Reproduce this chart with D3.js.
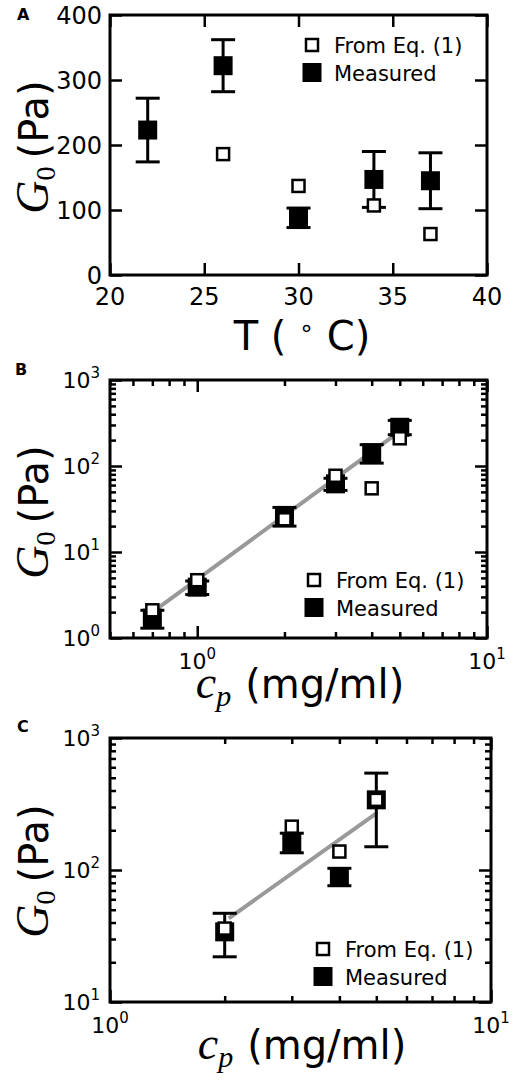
<!DOCTYPE html>
<html>
<head>
<meta charset="utf-8">
<title>G0 vs T and cp</title>
<style>
body{margin:0;background:#fff}
text{font-family:"DejaVu Sans",sans-serif;fill:#000}
</style>
</head>
<body>
<script src="https://d3js.org/d3.v7.min.js"></script>
<script>
var W = 528, H = 1084;

// panel A : G0 vs temperature
var tempA = [22, 26, 30, 34, 37];
var measA = [223, 322, 88, 147, 145];
var measAErr = [49, 40, 15, 43, 43];
var eqTempA = [26, 30, 34, 37];
var eqA = [186, 137, 107, 63];
var xTicksA = [20, 25, 30, 35, 40];
var yTicksA = [0, 100, 200, 300, 400];

// panel B : G0 vs polymer concentration
var concB = [0.7, 1, 2, 3, 4, 5];
var measB = [1.7, 3.9, 26, 62, 142, 282];
var measBLo = [1.3, 3.2, 20, 52, 108, 231];
var measBHi = [2.1, 4.6, 33, 72, 177, 339];
var eqB = [2.1, 4.7, 24, 77, 55, 210];
var fitBx = [0.7, 5];
var fitBy = [2.0, 252];

// panel C
var concC = [2, 3, 4, 5];
var measC = [34, 162, 89, 340];
var measCLo = [22, 135, 76, 150];
var measCHi = [47, 190, 103, 542];
var eqC = [36, 213, 138, 340];
var fitCx = [2.05, 5];
var fitCy = [43, 269];

var legendLabels = ["From Eq. (1)", "Measured"];

var svg = d3.select('body').append('svg')
  .attr('width', W)
  .attr('height', H)

function isPow10(v) {
  var l = Math.log10(v);
  return Math.abs(l - Math.round(l)) < 1e-9;
}

function drawPanel(p) {
  var g = svg.append('g');
  var x = p.x, y = p.y;
  var left = x.range()[0], right = x.range()[1];
  var bottom = y.range()[0], top = y.range()[1];

  function tickRow(axisFn, scale, vals, size, tx, ty) {
    g.append('g')
      .attr('transform', 'translate(' + tx + ',' + ty + ')')
      .call(axisFn(scale).tickValues(vals).tickSize(size).tickSizeOuter(0).tickFormat(''))
      .call(function(a) {
        a.select('.domain').remove();
        a.selectAll('line').attr('stroke', '#000').attr('stroke-width', 2.5);
      });
  }
  [[p.xMajor, -12], [p.xMinor, -6]].forEach(function(t) {
    if (!t[0].length) return;
    tickRow(d3.axisBottom, x, t[0], t[1], 0, bottom);
    tickRow(d3.axisTop, x, t[0], t[1], 0, top);
  });
  [[p.yMajor, -12], [p.yMinor, -6]].forEach(function(t) {
    if (!t[0].length) return;
    tickRow(d3.axisLeft, y, t[0], t[1], left, 0);
    tickRow(d3.axisRight, y, t[0], t[1], right, 0);
  });

  g.append('rect')
    .attr('x', left).attr('y', top)
    .attr('width', right - left).attr('height', bottom - top)
    .attr('fill', 'none').attr('stroke', '#000').attr('stroke-width', 3);

  // tick labels
  if (p.log) {
    p.xMajor.forEach(function(v) {
      var t = g.append('text').attr('x', x(v)).attr('y', bottom + 31)
        .attr('text-anchor', 'middle').style('font-size', '22px');
      t.append('tspan').text('10');
      t.append('tspan').attr('dy', -10).style('font-size', '15px').text(Math.round(Math.log10(v)));
    });
    p.yMajor.forEach(function(v) {
      var t = g.append('text').attr('x', left - 10).attr('y', y(v) + 8)
        .attr('text-anchor', 'end').style('font-size', '22px');
      t.append('tspan').text('10');
      t.append('tspan').attr('dy', -10).style('font-size', '15px').text(Math.round(Math.log10(v)));
    });
  } else {
    p.xMajor.forEach(function(v) {
      g.append('text').attr('x', x(v)).attr('y', bottom + 30)
        .attr('text-anchor', 'middle').style('font-size', '24px').text(v);
    });
    p.yMajor.forEach(function(v) {
      g.append('text').attr('x', left - 8).attr('y', y(v) + 9)
        .attr('text-anchor', 'end').style('font-size', '24px').text(v);
    });
  }

  // fit line
  if (p.fit) {
    g.append('path')
      .datum(d3.zip(p.fit[0], p.fit[1]))
      .attr('fill', 'none').attr('stroke', '#999').attr('stroke-width', 4)
      .attr('d', d3.line().x(function(d){ return x(d[0]) }).y(function(d){ return y(d[1]) }));
  }

  // error bars
  var eb = g.append('g').attr('stroke', '#000').attr('stroke-width', 3);
  p.meas.forEach(function(d) {
    var cx = x(d.x);
    eb.append('line').attr('x1', cx).attr('x2', cx).attr('y1', y(d.lo)).attr('y2', y(d.hi));
    [d.lo, d.hi].forEach(function(v) {
      eb.append('line').attr('x1', cx - 12).attr('x2', cx + 12).attr('y1', y(v)).attr('y2', y(v));
    });
  });

  g.selectAll('rect.meas').data(p.meas).enter().append('rect')
    .attr('class', 'meas')
    .attr('x', function(d){ return x(d.x) - 9.5 })
    .attr('y', function(d){ return y(d.v) - 9.5 })
    .attr('width', 19).attr('height', 19).attr('fill', '#000');

  g.selectAll('rect.eq').data(p.eq).enter().append('rect')
    .attr('class', 'eq')
    .attr('x', function(d){ return x(d.x) - 6 })
    .attr('y', function(d){ return y(d.v) - 6 })
    .attr('width', 12).attr('height', 12)
    .attr('fill', '#fff').attr('stroke', '#000').attr('stroke-width', 2.5);

  // legend
  var lg = p.legend;
  g.append('rect').attr('x', lg.x - 6).attr('y', lg.y - 6).attr('width', 12).attr('height', 12)
    .attr('fill', '#fff').attr('stroke', '#000').attr('stroke-width', 2.5);
  g.append('rect').attr('x', lg.x - 9.5).attr('y', lg.y + 27.5 - 9.5).attr('width', 19).attr('height', 19)
    .attr('fill', '#000');
  legendLabels.forEach(function(s, i) {
    g.append('text').attr('x', lg.x + 22).attr('y', lg.y + 8 + i * 28)
      .style('font-size', '21px').text(s);
  });

  // panel letter
  g.append('text').attr('x', p.letter[1]).attr('y', p.letter[2])
    .style('font-size', '16px').style('font-weight', 'bold').text(p.letter[0]);

  // y label G0 (Pa)
  var yl = g.append('text')
    .attr('transform', 'translate(48,' + p.yLabelY + ') rotate(-90)')
    .attr('text-anchor', 'middle').style('font-size', '40px');
  yl.append('tspan').style('font-family', '"Liberation Serif",serif').style('font-style', 'italic')
    .style('font-size', '46px').text('G');
  yl.append('tspan').style('font-family', '"Liberation Serif",serif').style('font-size', '28px')
    .attr('dy', 7).text('0');
  yl.append('tspan').attr('dy', -7).attr('dx', 8).text('(Pa)');

  // x label
  var xl = g.append('text').attr('x', p.xLabel[0]).attr('y', p.xLabel[1])
    .attr('text-anchor', 'middle').style('font-size', '40px');
  if (p.log) {
    xl.append('tspan').style('font-family', '"Liberation Serif",serif').style('font-style', 'italic')
      .style('font-size', '46px').text('c');
    xl.append('tspan').style('font-family', '"Liberation Serif",serif').style('font-style', 'italic')
      .style('font-size', '30px').attr('dy', 8).text('p');
    xl.append('tspan').attr('dy', -8).attr('dx', 14).text('(mg/ml)');
  } else {
    xl.append('tspan').text('T ( ');
    xl.append('tspan').attr('dy', -14).style('font-size', '24px').text('\u2218');
    xl.append('tspan').attr('dy', 14).text(' C)');
  }
}

// A
drawPanel({
  x: d3.scaleLinear().domain([20, 40]).range([110, 487]),
  y: d3.scaleLinear().domain([0, 400]).range([275, 15]),
  log: false,
  xMajor: xTicksA, xMinor: [],
  yMajor: yTicksA, yMinor: [],
  meas: tempA.map(function(t, i){ return {x: t, v: measA[i], lo: measA[i] - measAErr[i], hi: measA[i] + measAErr[i]} }),
  eq: eqTempA.map(function(t, i){ return {x: t, v: eqA[i]} }),
  legend: {x: 312, y: 45},
  letter: ['A', 17, 20],
  yLabelY: 147,
  xLabel: [302, 350]
});

// B
var xB = d3.scaleLog().domain([0.5, 10]).range([110, 487]);
var yB = d3.scaleLog().domain([1, 1000]).range([638, 380]);
drawPanel({
  x: xB, y: yB, log: true,
  xMajor: xB.ticks().filter(isPow10), xMinor: xB.ticks().filter(function(v){ return !isPow10(v) }),
  yMajor: yB.ticks().filter(isPow10), yMinor: yB.ticks().filter(function(v){ return !isPow10(v) }),
  fit: [fitBx, fitBy],
  meas: concB.map(function(c, i){ return {x: c, v: measB[i], lo: measBLo[i], hi: measBHi[i]} }),
  eq: concB.map(function(c, i){ return {x: c, v: eqB[i]} }),
  legend: {x: 314, y: 580},
  letter: ['B', 15, 375],
  yLabelY: 512,
  xLabel: [300, 698]
});

// C
var xC = d3.scaleLog().domain([1, 10]).range([110, 491]);
var yC = d3.scaleLog().domain([10, 1000]).range([1002, 738]);
drawPanel({
  x: xC, y: yC, log: true,
  xMajor: xC.ticks().filter(isPow10), xMinor: xC.ticks().filter(function(v){ return !isPow10(v) }),
  yMajor: yC.ticks().filter(isPow10), yMinor: yC.ticks().filter(function(v){ return !isPow10(v) }),
  fit: [fitCx, fitCy],
  meas: concC.map(function(c, i){ return {x: c, v: measC[i], lo: measCLo[i], hi: measCHi[i]} }),
  eq: concC.map(function(c, i){ return {x: c, v: eqC[i]} }),
  legend: {x: 323, y: 949},
  letter: ['C', 17, 732],
  yLabelY: 871,
  xLabel: [302, 1059]
});
</script>
</body>
</html>
